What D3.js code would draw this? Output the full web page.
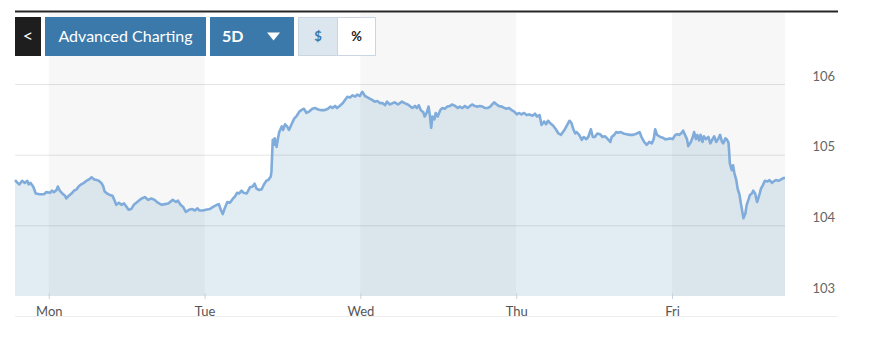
<!DOCTYPE html>
<html>
<head>
<meta charset="utf-8">
<script src="https://cdn.jsdelivr.net/npm/d3@7"></script>
<style>
  body { margin: 0; background: #fff; font-family: Lato, "Open Sans", sans-serif; }
</style>
</head>
<body>
<div id="chart"></div>
<script>
// hours counted from Monday 00:00, price level
const sundayEve = [[-5.2,104.64],[-4.8,104.60],[-4.5,104.58],[-4.1,104.63],[-3.7,104.60],[-3.3,104.63],[-3.1,104.58],[-2.8,104.60],[-2.4,104.55],[-2.0,104.45],[-1.4,104.44],[-0.7,104.44],[-0.4,104.47]];
const monday = [[0.2,104.46],[0.5,104.49],[0.8,104.47],[1.2,104.50],[1.4,104.55],[1.7,104.49],[2.1,104.45],[2.5,104.42],[2.7,104.38],[3.1,104.42],[3.5,104.45],[3.9,104.49],[4.3,104.51],[4.6,104.55],[5.0,104.58],[5.4,104.60],[5.8,104.63],[6.2,104.65],[6.6,104.68],[7.0,104.65],[7.4,104.64],[7.7,104.63],[8.1,104.60],[8.4,104.55],[8.6,104.48],[9.0,104.45],[9.4,104.43],[9.8,104.42],[10.1,104.36],[10.4,104.29],[10.8,104.32],[11.2,104.29],[11.6,104.31],[12.0,104.26],[12.3,104.22],[12.7,104.23],[13.1,104.29],[13.5,104.32],[13.9,104.35],[14.3,104.38],[14.8,104.40],[15.3,104.36],[15.8,104.38],[16.3,104.36],[16.8,104.32],[17.4,104.29],[17.9,104.30],[18.4,104.31],[19.1,104.36],[19.6,104.33],[19.9,104.35],[20.3,104.29],[20.7,104.26],[21.1,104.19],[21.6,104.22],[22.1,104.23],[22.5,104.21],[22.9,104.24],[23.2,104.21],[23.7,104.21]];
const tuesday = [[24.2,104.22],[24.8,104.23],[25.3,104.26],[25.9,104.29],[26.2,104.30],[26.5,104.22],[26.8,104.16],[27.1,104.24],[27.5,104.33],[27.9,104.32],[28.3,104.37],[28.7,104.41],[29.0,104.46],[29.3,104.45],[29.7,104.49],[30.0,104.46],[30.5,104.45],[31.0,104.54],[31.4,104.55],[31.7,104.59],[32.0,104.52],[32.4,104.50],[32.8,104.51],[33.1,104.57],[33.5,104.63],[33.8,104.64],[34.2,104.69],[34.3,104.76],[34.5,105.21],[34.7,105.14],[34.8,105.23],[35.1,105.11],[35.3,105.23],[35.5,105.32],[35.9,105.40],[36.1,105.35],[36.4,105.43],[36.7,105.40],[37.0,105.35],[37.4,105.43],[37.8,105.51],[38.2,105.55],[38.6,105.61],[38.9,105.63],[39.3,105.65],[39.7,105.59],[40.1,105.61],[40.6,105.65],[41.0,105.66],[41.5,105.64],[42.0,105.63],[42.5,105.63],[43.0,105.65],[43.4,105.68],[43.7,105.66],[44.1,105.69],[44.4,105.66],[44.8,105.69],[45.3,105.73],[45.6,105.77],[46.0,105.82],[46.4,105.81],[46.8,105.84],[47.2,105.82],[47.5,105.85],[47.9,105.83]];
const wednesday = [[48.3,105.89],[48.7,105.83],[49.1,105.81],[49.5,105.79],[49.9,105.77],[50.2,105.75],[50.6,105.76],[51.0,105.73],[51.4,105.73],[51.8,105.70],[52.1,105.75],[52.5,105.71],[53.0,105.73],[53.3,105.74],[53.8,105.71],[54.4,105.75],[54.8,105.73],[55.3,105.71],[55.6,105.69],[56.0,105.66],[56.4,105.69],[56.7,105.66],[57.0,105.70],[57.3,105.63],[57.7,105.60],[57.9,105.54],[58.2,105.59],[58.5,105.68],[58.7,105.56],[58.9,105.38],[59.1,105.54],[59.4,105.50],[59.6,105.59],[59.9,105.54],[60.3,105.63],[60.6,105.66],[61.0,105.65],[61.4,105.68],[61.8,105.69],[62.1,105.71],[62.6,105.69],[63.0,105.66],[63.3,105.68],[63.7,105.66],[64.1,105.69],[64.5,105.66],[64.9,105.69],[65.2,105.71],[65.6,105.69],[66.1,105.68],[66.4,105.69],[66.8,105.68],[67.2,105.66],[67.6,105.66],[68.0,105.68],[68.3,105.71],[68.6,105.74],[69.0,105.71],[69.3,105.69],[69.8,105.68],[70.2,105.66],[70.5,105.65],[70.9,105.66],[71.3,105.63],[71.7,105.61]];
const thursday = [[72.1,105.57],[72.4,105.59],[72.8,105.57],[73.2,105.59],[73.6,105.56],[74.0,105.57],[74.5,105.55],[74.9,105.58],[75.2,105.54],[75.6,105.56],[75.9,105.42],[76.3,105.47],[76.6,105.43],[76.9,105.48],[77.3,105.44],[77.7,105.41],[78.1,105.36],[78.5,105.30],[78.9,105.28],[79.2,105.32],[79.5,105.36],[79.9,105.43],[80.2,105.48],[80.5,105.45],[80.8,105.36],[81.1,105.30],[81.3,105.32],[81.7,105.28],[82.1,105.21],[82.4,105.25],[82.8,105.22],[83.1,105.25],[83.5,105.36],[83.8,105.25],[84.1,105.25],[84.5,105.30],[84.9,105.29],[85.3,105.25],[85.7,105.26],[86.0,105.23],[86.5,105.18],[86.7,105.25],[87.1,105.28],[87.4,105.32],[87.7,105.31],[88.1,105.32],[88.5,105.30],[89.0,105.29],[89.5,105.28],[90.0,105.28],[90.6,105.30],[91.0,105.32],[91.3,105.25],[91.7,105.18],[92.1,105.14],[92.5,105.18],[92.9,105.16],[93.2,105.23],[93.4,105.36],[93.7,105.28],[94.2,105.25],[94.6,105.24],[94.9,105.22],[95.3,105.22],[95.7,105.23]];
const friday = [[96.1,105.22],[96.5,105.28],[96.8,105.29],[97.1,105.28],[97.5,105.31],[97.7,105.34],[98.0,105.28],[98.3,105.22],[98.5,105.12],[98.9,105.18],[99.2,105.25],[99.4,105.32],[99.7,105.22],[99.9,105.28],[100.2,105.20],[100.4,105.28],[100.7,105.18],[100.9,105.26],[101.2,105.22],[101.6,105.25],[101.9,105.16],[102.3,105.23],[102.5,105.26],[102.8,105.18],[103.1,105.22],[103.4,105.28],[103.7,105.18],[103.9,105.16],[104.2,105.23],[104.4,105.22],[104.7,105.17],[104.8,105.04],[104.9,104.88],[105.2,104.78],[105.4,104.85],[105.6,104.74],[105.9,104.64],[106.1,104.52],[106.4,104.43],[106.6,104.31],[106.7,104.26],[107.0,104.10],[107.3,104.17],[107.5,104.29],[107.8,104.37],[108.0,104.43],[108.3,104.45],[108.5,104.49],[108.8,104.45],[109.1,104.33],[109.5,104.45],[109.7,104.52],[110.0,104.57],[110.3,104.63],[110.7,104.62],[111.0,104.64],[111.4,104.60],[111.6,104.62],[112.0,104.64],[112.4,104.63],[112.8,104.65],[113.2,104.67],[113.4,104.67]];

const dayLabels = ["Mon", "Tue", "Wed", "Thu", "Fri"];
const dayStarts = [0, 24, 48, 72, 96];
const shadedDays = [[0, 24], [48, 72], [96, 113.4]];
const yTicks = [103, 104, 105, 106];

let data = [].concat(sundayEve, monday, tuesday, wednesday, thursday, friday);

let W = 870, H = 354;
let svg = d3.select("#chart").append("svg")
    .attr("width", W)
    .attr("height", H);

// scales
let x = d3.scaleLinear()
    .domain([data[0][0], data[data.length - 1][0]])
    .range([15, 785]);
let y = d3.scaleLinear()
    .domain([103, 106])
    .range([296, 84]);

let plotTop = 13, plotBottom = y(103);

// top rule
svg.append("rect")
    .attr("x", 15).attr("y", 10.5)
    .attr("width", 823).attr("height", 2)
    .attr("fill", "#262626");

// alternating day bands
svg.selectAll(".band")
    .data(shadedDays)
    .enter()
    .append("rect")
    .attr("class", "band")
    .attr("x", d => x(d[0]))
    .attr("y", plotTop)
    .attr("width", d => x(d[1]) - x(d[0]))
    .attr("height", plotBottom - plotTop)
    .attr("fill", "#f7f7f7");

// area under the line
let area = d3.area()
    .x(d => x(d[0]))
    .y0(plotBottom)
    .y1(d => y(d[1]));

svg.append("path")
    .datum(data)
    .attr("d", area)
    .attr("fill", "rgba(20, 95, 160, 0.12)");

// horizontal grid
svg.append("g")
    .attr("transform", "translate(15,0)")
    .call(d3.axisLeft(y).tickValues(yTicks.filter(t => t > 103)).tickSize(-770).tickFormat(""))
    .call(g => g.select(".domain").remove())
    .selectAll("line")
    .attr("stroke", "#000")
    .attr("stroke-opacity", 0.1);

// price line
let line = d3.line()
    .x(d => x(d[0]))
    .y(d => y(d[1]));

svg.append("path")
    .datum(data)
    .attr("d", line)
    .attr("fill", "none")
    .attr("stroke", "#80acdb")
    .attr("stroke-width", 2.6)
    .attr("stroke-linejoin", "round");

// x axis: day ticks
let xAxis = svg.append("g")
    .attr("transform", `translate(0,${plotBottom})`)
    .call(d3.axisBottom(x).tickValues(dayStarts).tickSize(3).tickFormat((d, i) => dayLabels[i]));
xAxis.select(".domain").remove();
xAxis.selectAll("line")
    .attr("stroke", "#c6d3df")
    .attr("y1", -3);
xAxis.selectAll("text")
    .attr("y", 11)
    .style("font-family", "Lato, sans-serif")
    .style("font-size", "13px")
    .style("fill", "#555");

// y labels on the right
let yAxis = svg.append("g")
    .attr("transform", "translate(835,-8)")
    .call(d3.axisLeft(y).tickValues(yTicks).tickSize(0).tickFormat(d3.format("d")));
yAxis.select(".domain").remove();
yAxis.selectAll("text")
    .attr("x", 0)
    .style("font-family", "Lato, sans-serif")
    .style("font-size", "13px")
    .style("fill", "#666");

// bottom rule
svg.append("line")
    .attr("x1", 15).attr("x2", 838)
    .attr("y1", 316.5).attr("y2", 316.5)
    .attr("stroke", "#eeeeee");

// toolbar buttons
let bar = svg.append("g").style("font-family", "Lato, sans-serif");

bar.append("rect")
    .attr("x", 15).attr("y", 17).attr("width", 26).attr("height", 39)
    .attr("fill", "#1e1e1e");
bar.append("text")
    .attr("x", 28).attr("y", 42)
    .attr("text-anchor", "middle")
    .style("font-size", "18px")
    .style("fill", "#fff")
    .text("<");

bar.append("rect")
    .attr("x", 45).attr("y", 17).attr("width", 161).attr("height", 39)
    .attr("fill", "#3b79aa");
bar.append("text")
    .attr("x", 125.5).attr("y", 42)
    .attr("text-anchor", "middle")
    .style("font-size", "16px")
    .style("fill", "#fff")
    .text("Advanced Charting");

bar.append("rect")
    .attr("x", 210).attr("y", 17).attr("width", 84).attr("height", 39)
    .attr("fill", "#3b79aa");
bar.append("text")
    .attr("x", 222).attr("y", 42)
    .style("font-size", "16px").style("font-weight", "bold")
    .style("fill", "#fff")
    .text("5D");
bar.append("path")
    .attr("d", "M267,32.5 L280,32.5 L273.5,40.5 Z")
    .attr("fill", "#fff");

bar.append("rect")
    .attr("x", 298.5).attr("y", 17.5).attr("width", 77).attr("height", 38)
    .attr("fill", "#fff")
    .attr("stroke", "#c9d6e2");
bar.append("rect")
    .attr("x", 298.5).attr("y", 17.5).attr("width", 39).attr("height", 38)
    .attr("fill", "#dce6ef")
    .attr("stroke", "#c9d6e2");
bar.append("text")
    .attr("x", 318).attr("y", 41)
    .attr("text-anchor", "middle")
    .style("font-size", "13px").style("font-weight", "bold")
    .style("fill", "#3b79aa")
    .text("$");
bar.append("text")
    .attr("x", 356.5).attr("y", 41)
    .attr("text-anchor", "middle")
    .style("font-size", "13px").style("font-weight", "bold")
    .style("fill", "#222")
    .text("%");
</script>
</body>
</html>
